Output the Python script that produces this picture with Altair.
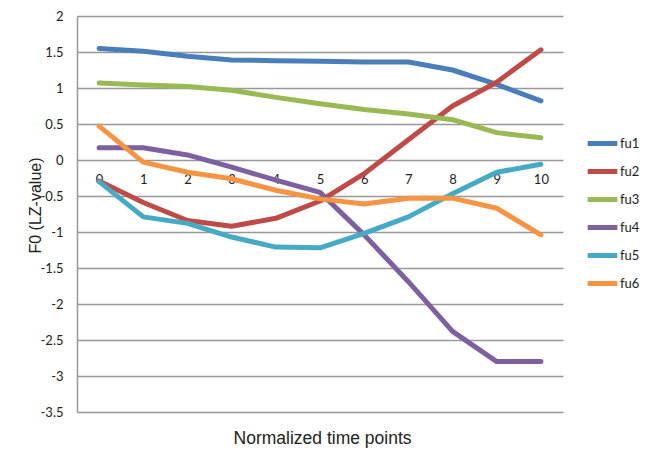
import altair as alt
import pandas as pd

time_points = [0, 1, 2, 3, 4, 5, 6, 7, 8, 9, 10]
series_names = ["fu1", "fu2", "fu3", "fu4", "fu5", "fu6"]
fu1 = [1.55, 1.51, 1.44, 1.39, 1.38, 1.37, 1.36, 1.36, 1.25, 1.05, 0.82]
fu2 = [-0.29, -0.59, -0.84, -0.92, -0.81, -0.57, -0.19, 0.28, 0.75, 1.08, 1.53]
fu3 = [1.07, 1.04, 1.02, 0.97, 0.87, 0.78, 0.70, 0.64, 0.56, 0.38, 0.31]
fu4 = [0.17, 0.17, 0.07, -0.10, -0.28, -0.45, -1.04, -1.69, -2.38, -2.80, -2.80]
fu5 = [-0.30, -0.79, -0.88, -1.07, -1.21, -1.22, -1.02, -0.79, -0.47, -0.17, -0.06]
fu6 = [0.47, -0.03, -0.17, -0.26, -0.42, -0.54, -0.61, -0.53, -0.53, -0.67, -1.04]
colors = ["#4A7EBB", "#BE4B48", "#98B954", "#7D60A0", "#46AAC5", "#F59443"]
y_ticks = [2, 1.5, 1, 0.5, 0, -0.5, -1, -1.5, -2, -2.5, -3, -3.5]

rows = []
for name, vals in zip(series_names, [fu1, fu2, fu3, fu4, fu5, fu6]):
    for t, v in zip(time_points, vals):
        rows.append({"t": t, "value": v, "series": name})
df = pd.DataFrame(rows)

PAD_TOP = 8          # plot top at page y = 16
W, H = 486, 396
y_min, y_max = -3.5, 2.0
zero_px = (y_max - 0) / (y_max - y_min) * H
plot_top_page = 8 + PAD_TOP

chart = alt.Chart(df).mark_line(strokeWidth=5, strokeCap="round", strokeJoin="round").encode(
    x=alt.X(
        "t:O",
        sort=time_points,
        scale=alt.Scale(paddingOuter=0.5),
        axis=alt.Axis(
            title="Normalized time points",
            orient="bottom",
            offset=-(H - zero_px),
            domain=False,
            ticks=False,
            grid=False,
            labelAngle=0,
            labelPadding=13,
            labelFont="Lato",
            labelFontSize=13,
            labelColor="#222222",
            titleFont="Liberation Sans",
            titleFontSize=17.5,
            titleFontWeight="normal",
            titleColor="#222222",
            titleX=245,
            titleY=443 - plot_top_page - zero_px,
            titleBaseline="alphabetic",
            titleAlign="center",
        ),
    ),
    y=alt.Y(
        "value:Q",
        scale=alt.Scale(domain=[y_min, y_max], nice=False, zero=False),
        axis=alt.Axis(
            title="F0 (LZ-value)",
            values=y_ticks,
            labelExpr="'' + datum.value",
            domain=True,
            domainColor="#999999",
            domainWidth=1.5,
            ticks=False,
            grid=True,
            gridColor="#999999",
            gridWidth=1.5,
            labelPadding=14,
            labelFont="Lato",
            labelFontSize=13,
            labelColor="#222222",
            titleFont="Liberation Sans",
            titleFontSize=16,
            titleFontWeight="normal",
            titleColor="#222222",
            titleAngle=-90,
            titleX=-42,
            titleY=205 - plot_top_page,
            titleAlign="center",
            titleBaseline="middle",
        ),
    ),
    color=alt.Color(
        "series:N",
        sort=series_names,
        scale=alt.Scale(domain=series_names, range=colors),
        legend=alt.Legend(
            title=None,
            orient="none",
            legendX=508,
            legendY=110,
            padding=0,
            symbolType="stroke",
            symbolSize=880,
            symbolStrokeWidth=5,
            labelFont="Lato",
            labelFontSize=13,
            labelColor="#222222",
            labelOffset=0,
            rowPadding=0,
        ),
    ),
).properties(
    width=W,
    height=H,
    padding={"left": 69, "top": PAD_TOP, "right": 81, "bottom": 442 - PAD_TOP - H},
    autosize=alt.AutoSizeParams(type="none"),
).configure_view(stroke=None)

chart.save("out.html", embed_options={"renderer": "svg", "actions": False})
